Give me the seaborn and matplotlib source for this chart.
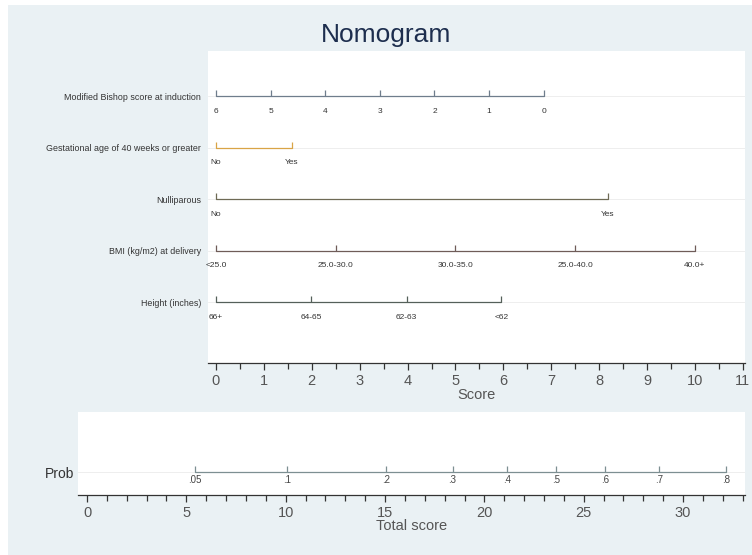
import matplotlib
matplotlib.use("Agg")
import matplotlib.pyplot as plt
from matplotlib.patches import Rectangle
from matplotlib.ticker import MultipleLocator
import seaborn as sns
import pandas as pd

# ---------------- data ----------------
row_names = ["Modified Bishop score at induction",
             "Gestational age of 40 weeks or greater",
             "Nulliparous",
             "BMI (kg/m2) at delivery",
             "Height (inches)"]

bishop_labels = ["6", "5", "4", "3", "2", "1", "0"]
bishop_points = [0.0, 1.14, 2.28, 3.42, 4.56, 5.70, 6.84]

gest_labels = ["No", "Yes"]
gest_points = [0.0, 1.58]

nullip_labels = ["No", "Yes"]
nullip_points = [0.0, 8.18]

bmi_labels = ["<25.0", "25.0-30.0", "30.0-35.0", "25.0-40.0", "40.0+"]
bmi_points = [0.0, 2.5, 5.0, 7.5, 10.0]

height_labels = ["66+", "64-65", "62-63", "<62"]
height_points = [0.0, 1.98, 3.98, 5.96]

prob_labels = [".05", ".1", ".2", ".3", ".4", ".5", ".6", ".7", ".8"]
prob_points = [5.44, 10.07, 15.05, 18.4, 21.14, 23.6, 26.07, 28.8, 32.16]

score_ticks = list(range(0, 12))
total_ticks = [0, 5, 10, 15, 20, 25, 30]

row_colors = ["#6f7d8c", "#d9a446", "#6e6a55", "#6f5c58", "#55605a"]
prob_color = "#7d8f92"

# ---------------- style ----------------
sns.set_style("white")
plt.rcParams["font.family"] = ["Liberation Sans", "DejaVu Sans"]

W, H = 752, 555
bg = "#eaf1f4"
fig = plt.figure(figsize=(W / 100, H / 100), dpi=100, facecolor=bg)
# thin white margins on the left and top
fig.patches.append(Rectangle((0, 0), 8 / W, 1, transform=fig.transFigure,
                             facecolor="white", edgecolor="none", zorder=-5))
fig.patches.append(Rectangle((0, 1 - 5 / H), 1, 5 / H, transform=fig.transFigure,
                             facecolor="white", edgecolor="none", zorder=-5))

fig.text(386 / W, 1 - 35 / H, "Nomogram", ha="center", va="center",
         fontsize=19, color="#1d2e4e")


def style_xaxis(a, minor_step, label, labelpad):
    a.xaxis.set_minor_locator(MultipleLocator(minor_step))
    a.tick_params(axis="x", which="both", bottom=True, top=False,
                  direction="out", width=0.9, color="#333333")
    a.tick_params(axis="x", which="major", length=5, labelsize=10.5,
                  labelcolor="#555555", pad=3)
    a.tick_params(axis="x", which="minor", length=4.5)
    a.set_xlabel(label, fontsize=10.5, color="#555555", labelpad=labelpad)
    a.set_ylabel("")
    for s in ["top", "right", "left"]:
        a.spines[s].set_visible(False)
    a.spines["bottom"].set_color("#333333")
    a.spines["bottom"].set_linewidth(0.9)


# ---------------- top panel ----------------
ax = fig.add_axes([208 / W, 1 - 363 / H, (745 - 208) / W, (363 - 51) / H])
ax.set_facecolor("white")
rows = [
    (bishop_labels, bishop_points),
    (gest_labels, gest_points),
    (nullip_labels, nullip_points),
    (bmi_labels, bmi_points),
    (height_labels, height_points),
]
row_y = [5, 4, 3, 2, 1]
for (labs, pts), yv, col in zip(rows, row_y, row_colors):
    df = pd.DataFrame({"x": pts, "y": [yv] * len(pts)})
    sns.lineplot(data=df, x="x", y="y", ax=ax, color=col, lw=0.9,
                 marker=2, markersize=4.5, markeredgewidth=0.9,
                 markeredgecolor=col, estimator=None, sort=False)
    for lab, p in zip(labs, pts):
        ax.text(p, yv - 0.30, lab, ha="center", va="center",
                fontsize=6, color="#333333")

ax.set_xlim(-0.167, 11.044)
ax.set_ylim(-0.184, 5.874)
ax.set_yticks(row_y)
ax.set_yticklabels(row_names, fontsize=6.4, color="#333333")
ax.tick_params(axis="y", length=0, pad=5)
ax.grid(axis="y", color="#eeeeee", lw=0.7, zorder=0)
ax.set_axisbelow(True)
ax.set_xticks(score_ticks)
style_xaxis(ax, 0.5, "Score", 0)

# ---------------- bottom panel ----------------
ax2 = fig.add_axes([78 / W, 1 - 495 / H, (745 - 78) / W, (495 - 412) / H])
ax2.set_facecolor("white")
py = 0.277
dfp = pd.DataFrame({"x": prob_points, "y": [py] * len(prob_points)})
sns.lineplot(data=dfp, x="x", y="y", ax=ax2, color=prob_color, lw=0.9,
             marker=2, markersize=4.5, markeredgewidth=0.9,
             markeredgecolor=prob_color, estimator=None, sort=False)
for lab, p in zip(prob_labels, prob_points):
    ax2.text(p, py - 0.10, lab, ha="center", va="center",
             fontsize=7, color="#444444")
ax2.set_xlim(-0.453, 33.115)
ax2.set_ylim(0, 1)
ax2.set_yticks([py])
ax2.set_yticklabels(["Prob"], fontsize=10, color="#333333")
ax2.tick_params(axis="y", length=0, pad=3)
ax2.grid(axis="y", color="#eeeeee", lw=0.7, zorder=0)
ax2.set_axisbelow(True)
ax2.set_xticks(total_ticks)
style_xaxis(ax2, 1, "Total score", -1)

fig.savefig("out.png", dpi=100, facecolor=fig.get_facecolor())
